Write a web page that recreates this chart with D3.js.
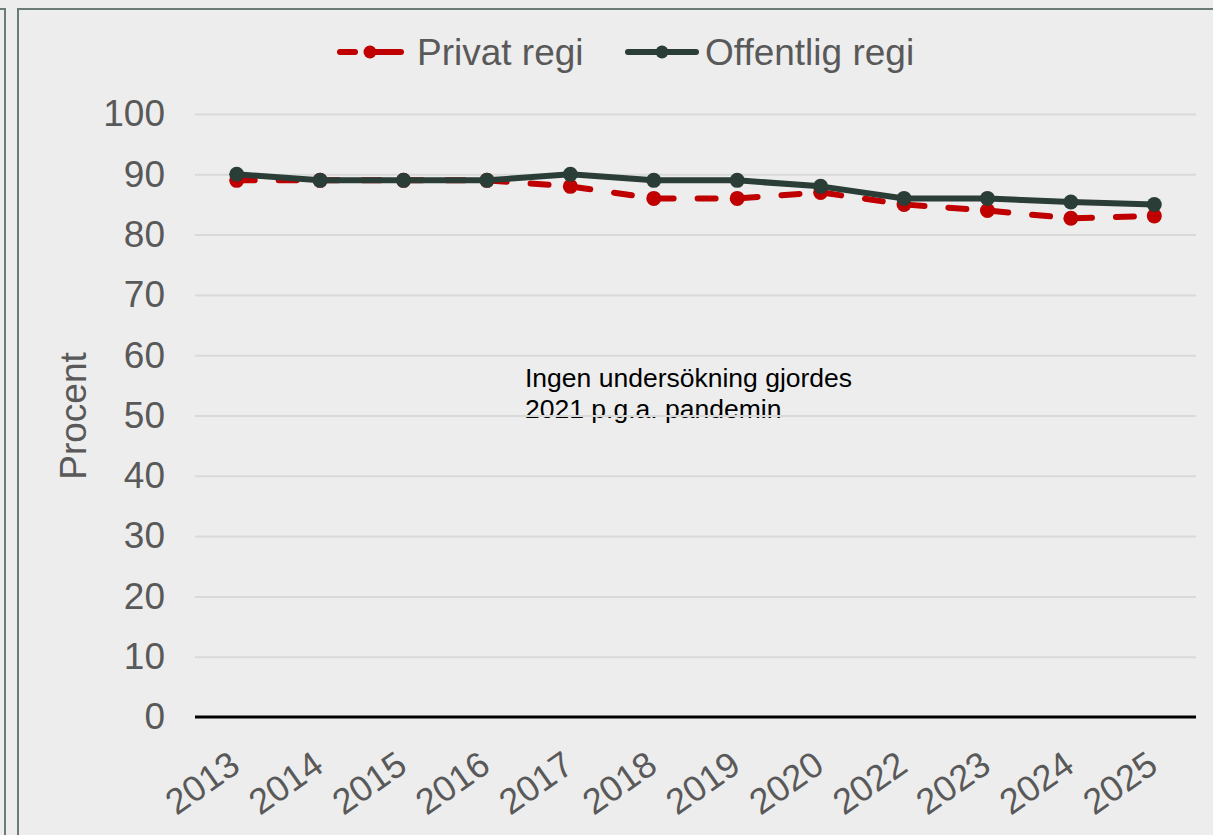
<!DOCTYPE html>
<html>
<head>
<meta charset="utf-8">
<script src="https://cdn.jsdelivr.net/npm/d3@7"></script>
<style>
  html, body { margin: 0; padding: 0; background: #ededed; }
  svg { display: block; font-family: "Liberation Sans", Arial, sans-serif; }
</style>
</head>
<body>
<svg id="chart" width="1213" height="835"></svg>
<script>
const years = ["2013","2014","2015","2016","2017","2018","2019","2020","2022","2023","2024","2025"];
const privat = [89, 89, 89, 89, 88, 86, 86, 87, 85, 84, 82.7, 83.1];
const offentlig = [90, 89, 89, 89, 90, 89, 89, 88, 86, 86, 85.4, 85];
const yTicks = [0, 10, 20, 30, 40, 50, 60, 70, 80, 90, 100];
const seriesNames = ["Privat regi", "Offentlig regi"];
const yTitle = "Procent";
const noteLines = ["Ingen undersökning gjordes", "2021 p.g.a. pandemin"];

const svg = d3.select("#chart");
const W = 1213, H = 835;
const plot = {left: 195, right: 1196, top: 114, bottom: 717};

svg.append("rect").attr("width", W).attr("height", H).attr("fill", "#ededed");

// frame lines
const frameColor = "#6b7c75";
svg.append("path").attr("d", "M0,9 H5 V835").attr("fill", "none").attr("stroke", frameColor).attr("stroke-width", 2);
svg.append("path").attr("d", "M18,840 V9 H1213").attr("fill", "none").attr("stroke", frameColor).attr("stroke-width", 2);

const x = d3.scalePoint().domain(years).range([plot.left, plot.right]).padding(0.5);
const y = d3.scaleLinear().domain([0, 100]).range([plot.bottom, plot.top]);

// annotation (under gridlines)
const note = svg.append("text").attr("x", 525).attr("y", 387)
  .attr("font-size", 26.5).attr("fill", "#000");
noteLines.forEach((t, i) => {
  note.append("tspan").attr("x", 525).attr("y", 387 + i * 31).text(t);
});

// gridlines
const grid = svg.append("g").attr("transform", `translate(${plot.left},0)`)
  .call(d3.axisLeft(y).tickValues(yTicks.filter(d => d > 0)).tickSize(-(plot.right - plot.left)).tickFormat(""));
grid.select(".domain").remove();
grid.selectAll("line").attr("stroke", "#d9d9d9").attr("stroke-width", 2);

// y tick labels
const yAxis = svg.append("g").attr("transform", `translate(${plot.left},0)`)
  .call(d3.axisLeft(y).tickValues(yTicks).tickSize(0).tickPadding(30));
yAxis.select(".domain").remove();
yAxis.selectAll("text").attr("font-size", 37).attr("fill", "#595959")
  .attr("font-family", "Liberation Sans, Arial, sans-serif");

// x axis
const xAxis = svg.append("g").attr("transform", `translate(0,${plot.bottom})`)
  .call(d3.axisBottom(x).tickSize(0).tickPadding(0));
xAxis.select(".domain").attr("stroke", "#000").attr("stroke-width", 3)
  .attr("d", `M${plot.left},0H${plot.right}`);
xAxis.selectAll("text")
  .attr("font-size", 36).attr("fill", "#595959")
  .attr("font-family", "Liberation Sans, Arial, sans-serif")
  .attr("text-anchor", "end")
  .attr("dy", null).attr("y", null)
  .attr("transform", "translate(5,53) rotate(-35)");

// y title
svg.append("text").attr("transform", "translate(86,416) rotate(-90)")
  .attr("text-anchor", "middle").attr("font-size", 37).attr("fill", "#595959").text(yTitle);

const line = d3.line().x((d, i) => x(years[i])).y(d => y(d));
const red = "#c00000", dark = "#2a3d36";

// Privat
svg.append("path").datum(privat).attr("d", line).attr("fill", "none")
  .attr("stroke", red).attr("stroke-width", 6).attr("stroke-dasharray", "18,24")
  .attr("stroke-linecap", "round").attr("stroke-linejoin", "round");
svg.append("g").selectAll("circle").data(privat).join("circle")
  .attr("cx", (d, i) => x(years[i])).attr("cy", d => y(d)).attr("r", 7.5).attr("fill", red);

// Offentlig
svg.append("path").datum(offentlig).attr("d", line).attr("fill", "none")
  .attr("stroke", dark).attr("stroke-width", 6).attr("stroke-linejoin", "round");
svg.append("g").selectAll("circle").data(offentlig).join("circle")
  .attr("cx", (d, i) => x(years[i])).attr("cy", d => y(d)).attr("r", 7.5).attr("fill", dark);

// legend
const lg = svg.append("g");
const ly = 52;
// Privat
lg.append("line").attr("x1", 340).attr("x2", 355).attr("y1", ly).attr("y2", ly)
  .attr("stroke", red).attr("stroke-width", 6).attr("stroke-linecap", "round");
lg.append("line").attr("x1", 372).attr("x2", 401).attr("y1", ly).attr("y2", ly)
  .attr("stroke", red).attr("stroke-width", 6).attr("stroke-linecap", "round");
lg.append("circle").attr("cx", 370).attr("cy", ly).attr("r", 6.5).attr("fill", red);
lg.append("text").attr("x", 417).attr("y", 65).attr("font-size", 37).attr("fill", "#595959").text(seriesNames[0]);
// Offentlig
lg.append("line").attr("x1", 628).attr("x2", 696).attr("y1", ly).attr("y2", ly)
  .attr("stroke", dark).attr("stroke-width", 6).attr("stroke-linecap", "round");
lg.append("circle").attr("cx", 662).attr("cy", ly).attr("r", 6.5).attr("fill", dark);
lg.append("text").attr("x", 705).attr("y", 65).attr("font-size", 37).attr("fill", "#595959").text(seriesNames[1]);
</script>
</body>
</html>
